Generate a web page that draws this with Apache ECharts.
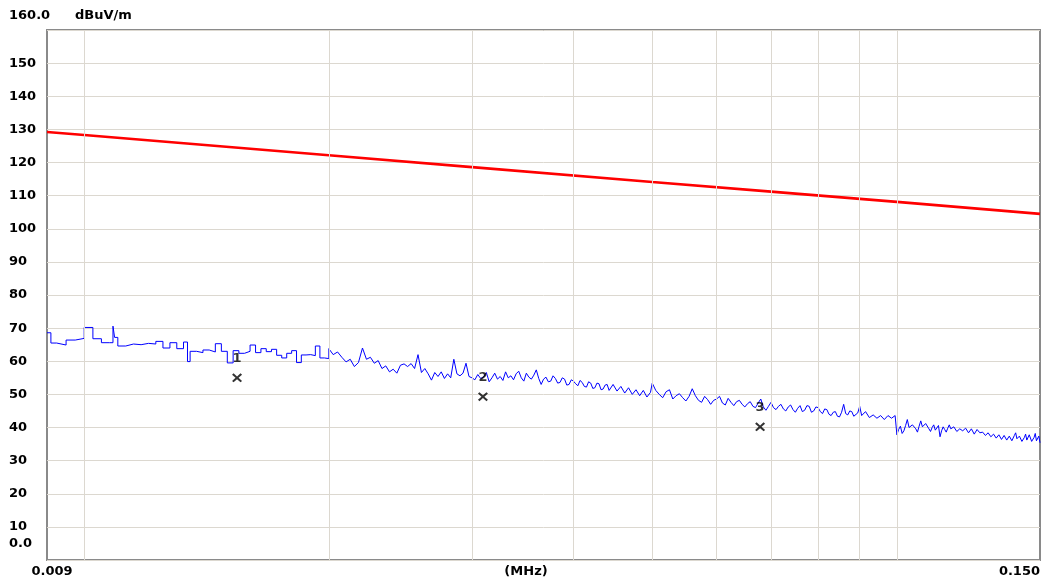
<!DOCTYPE html>
<html>
<head>
<meta charset="utf-8">
<script src="https://cdn.jsdelivr.net/npm/echarts@6/dist/echarts.min.js"></script>
<style>html,body{margin:0;padding:0;background:#fff;}#c{width:1043px;height:586px;}</style>
</head>
<body>
<div id="c"></div>
<script>
// Measured trace (frequency in kHz, level in dBuV/m)
const blueFreqKHz = [
  9, 9.1, 9.25, 9.5, 9.75, 10, 10.25, 10.5, 10.75, 10.85, 10.9, 11, 11.25, 11.5, 11.75,
  12, 12.25, 12.5, 12.75, 13, 13.25, 13.4, 13.5, 13.75, 14, 14.25, 14.5, 14.75,
  15, 15.25, 15.5, 15.75, 16, 16.25, 16.5, 16.75, 17, 17.25, 17.5, 17.75,
  18, 18.25, 18.5, 18.75, 19, 19.25, 19.5, 19.75, 20,
  20.25, 20.5, 20.75, 21, 21.25, 21.5, 21.75, 22, 22.25, 22.5, 22.75, 23, 23.25, 23.5, 23.75,
  24, 24.25, 24.5, 24.75, 25, 25.25, 25.5, 25.75, 26, 26.25, 26.5, 26.75, 27, 27.25, 27.5, 27.75,
  28, 28.25, 28.5, 28.75, 29, 29.25, 29.5, 29.75, 30,
  30.25, 30.5, 30.75, 31, 31.25, 31.5, 31.75, 32, 32.25, 32.5, 32.75, 33, 33.25, 33.5, 33.75, 34,
  34.25, 34.5, 34.75, 35, 35.25, 35.5, 35.75, 36, 36.25, 36.5, 36.75, 37, 37.25, 37.5, 37.75, 38,
  38.25, 38.5, 38.75, 39, 39.25, 39.5, 39.75, 40, 40.25, 40.5, 40.75, 41, 41.25, 41.5, 41.75, 42,
  42.25, 42.5, 42.75, 43, 43.25, 43.5, 43.75, 44, 44.25, 44.5, 44.75, 45, 45.25, 45.5, 45.75, 46,
  46.25, 46.5, 46.75, 47, 47.25, 47.5, 47.75, 48, 48.25, 48.5, 48.75, 49, 49.25, 49.5, 49.75, 50,
  50.5, 51, 51.5, 52, 52.5, 53, 53.5, 54, 54.5, 55, 55.5, 56, 56.5, 57, 57.5, 58, 58.5, 59, 59.5, 60,
  60.5, 61, 61.5, 62, 62.5, 63, 63.5, 64, 64.5, 65, 65.5, 66, 66.5, 67, 67.5, 68, 68.5, 69, 69.5, 70,
  70.5, 71, 71.5, 72, 72.5, 73, 73.5, 74, 74.5, 75, 75.5, 76, 76.5, 77, 77.5, 78, 78.5, 79, 79.5, 80,
  80.5, 81, 81.5, 82, 82.5, 83, 83.5, 84, 84.5, 85, 85.5, 86, 86.5, 87, 87.5, 88, 88.5, 89, 89.5, 90,
  90.5, 91, 91.5, 92, 92.5, 93, 93.5, 94, 94.5, 95, 95.5, 96, 96.5, 97, 97.5, 98, 98.5, 99, 99.5, 100,
  100.5, 101, 101.5, 102, 102.5, 103, 103.5, 104, 104.5, 105, 105.5, 106, 106.5, 107, 107.5, 108, 108.5, 109, 109.5, 110,
  110.5, 111, 111.5, 112, 112.5, 113, 113.5, 114, 114.5, 115, 115.5, 116, 116.5, 117, 117.5, 118, 118.5, 119, 119.5, 120,
  120.5, 121, 121.5, 122, 122.5, 123, 123.5, 124, 124.5, 125, 125.5, 126, 126.5, 127, 127.5, 128, 128.5, 129, 129.5, 130,
  130.5, 131, 131.5, 132, 132.5, 133, 133.5, 134, 134.5, 135, 135.5, 136, 136.5, 137, 137.5, 138, 138.5, 139, 139.5, 140,
  140.5, 141, 141.5, 142, 142.5, 143, 143.5, 144, 144.5, 145, 145.5, 146, 146.5, 147, 147.5, 148, 148.5, 149, 149.5, 150
];
const blueLevel = [
  68.6, 65.5, 64.9, 66.4, 66.9, 70.2, 66.8, 65.6, 65.6, 70.6, 67.2, 64.6, 65.2, 65.0, 65.4,
  65.2, 66.0, 64.0, 65.6, 63.8, 65.8, 59.9, 63.0, 62.6, 63.4, 62.8, 65.3, 63.0,
  59.5, 63.2, 62.4, 63.0, 64.9, 62.6, 63.8, 62.9, 63.6, 61.8, 61.0, 62.4,
  63.2, 59.6, 61.9, 62.0, 61.7, 64.6, 61.0, 60.8, 63.8,
  62.0, 62.8, 61.2, 59.8, 60.6, 58.4, 59.6, 64.0, 60.6, 61.2, 59.4, 60.2, 57.8, 58.6, 56.8,
  57.6, 56.4, 58.8, 59.2, 58.4, 59.3, 57.8, 62.0, 56.6, 57.8, 56.2, 54.3, 56.6, 55.4, 56.8, 54.8,
  56.2, 55.0, 60.6, 56.2, 55.6, 56.4, 59.4, 55.4, 55.0,
  54.4, 56.0, 54.8, 55.2, 56.6, 53.8, 55.0, 56.4, 54.6, 55.4, 54.2, 56.8, 55.0, 55.6, 54.4, 56.2,
  57.0, 55.0, 54.0, 56.4, 55.2, 54.6, 55.8, 57.4, 54.8, 53.0, 54.6, 55.2, 53.8, 54.0, 55.6, 54.8,
  53.4, 53.6, 55.0, 54.6, 52.8, 53.0, 54.4, 54.0, 53.2, 52.6, 54.2, 53.6, 52.4, 52.2, 53.8, 53.4,
  51.8, 52.0, 53.4, 53.2, 51.4, 51.6, 52.8, 53.0, 51.2, 51.8, 53.0, 52.6, 51.0, 50.8, 52.4, 52.2,
  50.4, 50.6, 52.0, 51.6, 50.0, 49.8, 51.4, 51.2, 49.6, 50.2, 51.2, 51.0, 49.2, 49.4, 50.6, 53.4,
  51.2, 50.0, 49.0, 50.8, 51.4, 48.6, 49.6, 50.2, 49.0, 48.0, 49.4, 51.7, 49.6, 48.2, 47.6, 49.4, 48.4, 47.0, 48.2, 48.6,
  49.4, 47.4, 46.8, 48.8, 47.6, 46.6, 47.8, 48.2, 47.0, 46.2, 47.2, 47.8, 46.4, 46.0, 47.4, 48.6, 46.2, 45.2, 46.4, 47.6,
  46.0, 45.4, 46.4, 47.0, 45.6, 45.0, 46.2, 46.8, 45.4, 44.6, 45.8, 46.6, 44.8, 45.2, 46.6, 46.4, 44.6, 45.0, 46.2, 46.0,
  44.8, 44.2, 45.6, 45.4, 44.0, 43.6, 44.6, 44.8, 43.4, 43.2, 44.6, 47.0, 44.2, 43.8, 45.0, 44.8, 43.4, 43.0, 44.4, 46.4,
  43.6, 43.4, 44.8, 44.6, 43.0, 42.6, 43.8, 44.0, 42.8, 42.4, 43.6, 43.8, 42.4, 42.2, 43.6, 44.2, 42.8, 43.0, 43.6, 37.8,
  39.4, 40.4, 38.2, 39.0, 40.6, 42.4, 40.0, 39.4, 40.8, 41.0, 39.6, 38.6, 40.4, 42.0, 40.2, 39.8, 41.2, 40.6, 39.6, 38.8,
  40.0, 40.8, 39.2, 39.4, 40.6, 37.2, 39.0, 40.2, 39.4, 38.6, 39.8, 40.8, 39.6, 39.0, 40.2, 39.8, 38.8, 38.4, 39.6, 40.2,
  39.0, 38.6, 39.8, 39.6, 38.4, 38.2, 39.6, 39.4, 38.0, 38.6, 39.4, 39.8, 38.4, 37.8, 38.6, 38.8, 37.6, 37.4, 38.4, 38.6,
  37.2, 37.0, 38.0, 38.2, 36.8, 36.6, 37.8, 37.8, 36.4, 36.4, 37.6, 37.6, 36.2, 36.0, 37.4, 37.8, 36.0, 36.2, 37.6, 38.4,
  36.6, 36.0, 37.4, 37.2, 35.8, 35.8, 37.0, 38.0, 36.2, 36.4, 37.8, 37.6, 35.8, 35.6, 37.0, 38.2, 36.0, 36.2, 37.4, 35.4
];
// Below this frequency the analyzer trace is drawn as flat steps
const stepUntilKHz = 20;
// Limit line
const limitFreqKHz = [9, 10, 20, 30, 50, 70, 100, 150];
const limitLevel = [129.2, 128.3, 122.2, 118.6, 114.1, 111.2, 108.1, 104.5];
// Markers
const markerFreqKHz = [15.42, 30.95, 67.87];
const markerLevel = [55.0, 49.3, 40.2];
const markerLabel = ['1', '2', '3'];
// Vertical grid frequencies (MHz)
const gridFreqMHz = [0.01, 0.02, 0.03, 0.04, 0.05, 0.06, 0.07, 0.08, 0.09, 0.1];
// Axis range
const xMinMHz = 0.009, xMaxMHz = 0.15;
const yMin = 0, yMax = 160, yStep = 10;

const FONT = 'DejaVu Sans';
const gridColor = '#dcd8d0';
const chart = echarts.init(document.getElementById('c'), null, {renderer: 'canvas'});

const blueLow = [], blueHigh = [];
blueFreqKHz.forEach((f, i) => {
  const p = [f / 1000, blueLevel[i]];
  if (f <= stepUntilKHz) blueLow.push(p);
  if (f >= stepUntilKHz) blueHigh.push(p);
});
const limitData = limitFreqKHz.map((f, i) => [f / 1000, limitLevel[i]]);
const markerData = markerFreqKHz.map((f, i) => ({name: markerLabel[i], value: [f / 1000, markerLevel[i]]}));

const txt = {fontFamily: FONT, fontWeight: 'bold', fontSize: 13, color: '#000'};

chart.setOption({
  animation: false,
  backgroundColor: '#fff',
  grid: {left: 47, right: 3, top: 30, bottom: 26, show: true, borderColor: '#8a8a8a', borderWidth: 2,
         backgroundColor: '#fff', containLabel: false, outerBoundsMode: 'none'},
  xAxis: {
    type: 'log', logBase: 10, min: xMinMHz, max: xMaxMHz,
    axisLine: {show: false}, axisTick: {show: false}, splitLine: {show: false},
    axisLabel: Object.assign({}, txt, {
      showMinLabel: true, showMaxLabel: true, alignMaxLabel: 'right', margin: 5,
      padding: [0, 0, 0, 10],
      formatter: v => Math.abs(v - xMinMHz) < 1e-6 ? '0.009' : (Math.abs(v - xMaxMHz) < 1e-6 ? '0.150' : '')
    }),
    name: '(MHz)', nameLocation: 'middle', nameGap: 5, nameMoveOverlap: false,
    nameTextStyle: Object.assign({}, txt, {padding: [0, 35, 0, 0], verticalAlign: 'top'})
  },
  yAxis: {
    type: 'value', min: yMin, max: yMax, interval: yStep,
    axisLine: {show: false}, axisTick: {show: false},
    splitLine: {show: true, lineStyle: {color: gridColor, width: 1}},
    axisLabel: Object.assign({}, txt, {
      align: 'left', margin: 38, showMinLabel: true, showMaxLabel: true,
      formatter: v => v === yMin ? '{lo|0.0}' : (v === yMax ? '{hi|160.0}' : String(v)),
      rich: {
        lo: Object.assign({}, txt, {padding: [0, 0, 33, 0]}),
        hi: Object.assign({}, txt, {padding: [0, 0, 29, 0]})
      }
    }),
    name: 'dBuV/m', nameLocation: 'end', nameGap: 8, nameMoveOverlap: false,
    nameTextStyle: Object.assign({}, txt, {align: 'left', padding: [0, 0, 0, 28]})
  },
  series: [
    {
      type: 'line', data: [], z: 1, silent: true,
      markLine: {
        silent: true, symbol: 'none', animation: false,
        label: {show: false},
        lineStyle: {color: gridColor, type: 'solid', width: 1},
        data: gridFreqMHz.map(f => ({xAxis: f}))
      }
    },
    {
      type: 'line', data: limitData, z: 3, showSymbol: false, silent: true,
      lineStyle: {color: '#ff0000', width: 2.6}
    },
    {
      type: 'line', data: blueLow, z: 4, showSymbol: false, silent: true, step: 'end',
      lineStyle: {color: '#0000ff', width: 1}
    },
    {
      type: 'line', data: blueHigh, z: 4, showSymbol: false, silent: true,
      lineStyle: {color: '#0000ff', width: 1}
    },
    {
      type: 'scatter', data: markerData, z: 5, silent: true,
      symbol: 'path://M0,1.5L1.5,0L5,3.5L8.5,0L10,1.5L6.5,5L10,8.5L8.5,10L5,6.5L1.5,10L0,8.5L3.5,5Z',
      symbolSize: [10, 9],
      itemStyle: {color: '#000'},
      label: Object.assign({}, txt, {show: true, position: 'top', distance: 8, formatter: '{b}'})
    }
  ]
});
</script>
</body>
</html>
